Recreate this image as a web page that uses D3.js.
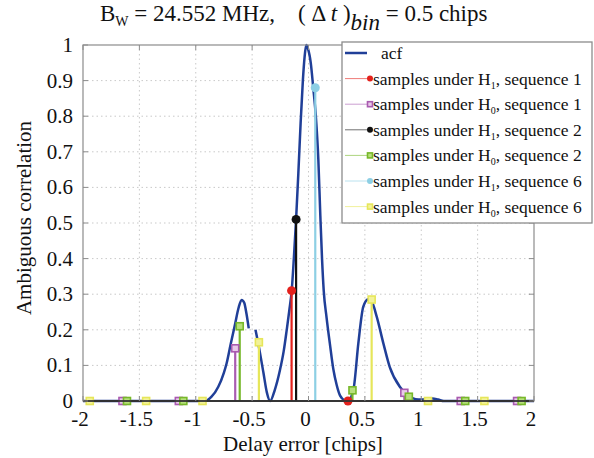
<!DOCTYPE html>
<html>
<head>
<meta charset="utf-8">
<script src="https://cdn.jsdelivr.net/npm/d3@7"></script>
<style>
  html, body { margin: 0; padding: 0; background: #fff; }
  svg { display: block; }
  text { font-family: "Liberation Serif", "Times New Roman", serif; fill: #111; }
</style>
</head>
<body>
<svg id="chart" width="594" height="458"></svg>
<script>
// Autocorrelation function (delay in chips, correlation); null marks a break in the curve
const acfX = [-2.0, -0.92, -0.86, -0.8, -0.75, -0.726, -0.69, -0.652, -0.62, -0.593, -0.57, -0.55, -0.53,
  -0.50,
  -0.47, -0.44, -0.40, -0.37, -0.34, -0.30, -0.253, -0.22, -0.193, -0.17, -0.149, -0.13, -0.11, -0.09, -0.07,
  -0.05, -0.035, -0.02, -0.005, 0.02, 0.042, 0.065, 0.087, 0.105, 0.12, 0.135, 0.16, 0.19, 0.22, 0.25, 0.28,
  0.32, 0.35, 0.40, 0.442, 0.486, 0.53, 0.56, 0.605, 0.664, 0.72, 0.81, 0.85, 0.9, 0.95, 1.0, 1.05, 1.1,
  1.15, 1.2, 2.0];
const acfY = [0, 0, 0.012, 0.04, 0.08, 0.106, 0.16, 0.215, 0.262, 0.284, 0.276, 0.245, 0.204,
  null,
  0.2, 0.152, 0.08, 0.025, 0.0, 0.03, 0.087, 0.14, 0.2, 0.255, 0.31, 0.4, 0.51, 0.64, 0.78,
  0.9, 0.965, 1.0, 0.99, 0.95, 0.88, 0.8, 0.68, 0.52, 0.4, 0.31, 0.235, 0.16, 0.09, 0.045, 0.015,
  0.002, 0.0, 0.035, 0.162, 0.265, 0.286, 0.28, 0.237, 0.162, 0.096, 0.04, 0.025, 0.012, 0.005, 0.004, 0.006, 0.007,
  0.004, 0.0, 0.0];

// Sample delays and correlation values for each sequence
const seq1H1X = [-0.15, 0.35];
const seq1H1Y = [0.31, 0.0];
const seq1H0X = [-1.65, -1.15, -0.65, 0.85, 1.35, 1.85];
const seq1H0Y = [0, 0, 0.148, 0.023, 0, 0];
const seq2H1X = [-0.11];
const seq2H1Y = [0.51];
const seq2H0X = [-1.61, -1.11, -0.61, 0.39, 0.89, 1.39, 1.89];
const seq2H0Y = [0, 0, 0.21, 0.03, 0.012, 0, 0];
const seq6H1X = [0.06];
const seq6H1Y = [0.88];
const seq6H0X = [-1.94, -1.44, -0.94, -0.44, 0.56, 1.06, 1.56];
const seq6H0Y = [0, 0, 0, 0.165, 0.285, 0, 0];

const xTicks = [-2, -1.5, -1, -0.5, 0, 0.5, 1, 1.5, 2];
const yTicks = [0, 0.1, 0.2, 0.3, 0.4, 0.5, 0.6, 0.7, 0.8, 0.9, 1];

const legendLabels = [
  ["acf"],
  ["samples under H", "1", ", sequence 1"],
  ["samples under H", "0", ", sequence 1"],
  ["samples under H", "1", ", sequence 2"],
  ["samples under H", "0", ", sequence 2"],
  ["samples under H", "1", ", sequence 6"],
  ["samples under H", "0", ", sequence 6"]
];

const series = [
  { xs: seq1H1X, ys: seq1H1Y, color: "#e3211c", fill: "#e3211c", marker: "circle", leg: 1 },
  { xs: seq1H0X, ys: seq1H0Y, color: "#a95bb0", fill: "#e9c9ea", marker: "square", leg: 2 },
  { xs: seq2H1X, ys: seq2H1Y, color: "#111111", fill: "#111111", marker: "circle", leg: 3 },
  { xs: seq2H0X, ys: seq2H0Y, color: "#77b82a", fill: "#b7df7c", marker: "square", leg: 4 },
  { xs: seq6H1X, ys: seq6H1Y, color: "#8dcfe4", fill: "#8dcfe4", marker: "circle", leg: 5 },
  { xs: seq6H0X, ys: seq6H0Y, color: "#e6e65a", fill: "#f2f29a", marker: "square", leg: 6 }
];

const svg = d3.select("#chart");
const plotL = 83, plotR = 534, plotT = 45, plotB = 401;
const x = d3.scaleLinear().domain([-2, 2]).range([plotL, plotR]);
const y = d3.scaleLinear().domain([0, 1]).range([plotB, plotT]);

// grid
const grid = svg.append("g").attr("stroke", "#c9c9c9").attr("stroke-width", 1).attr("stroke-dasharray", "1.5,3");
xTicks.slice(1, -1).forEach(t => grid.append("line").attr("x1", x(t)).attr("x2", x(t)).attr("y1", plotT).attr("y2", plotB));
yTicks.slice(1, -1).forEach(t => grid.append("line").attr("x1", plotL).attr("x2", plotR).attr("y1", y(t)).attr("y2", y(t)));

// acf curve
const acfData = acfX.map((v, i) => [v, acfY[i]]);
const line = d3.line().defined(d => d[1] !== null).x(d => x(d[0])).y(d => y(d[1])).curve(d3.curveMonotoneX);
svg.append("path").datum(acfData).attr("d", line).attr("fill", "none")
  .attr("stroke", "#203f98").attr("stroke-width", 2.5).attr("stroke-linejoin", "round");

// stems
series.forEach(s => {
  const pts = s.xs.map((v, i) => [v, s.ys[i]]);
  svg.append("g").selectAll("line").data(pts).join("line")
    .attr("x1", d => x(d[0])).attr("x2", d => x(d[0]))
    .attr("y1", y(0)).attr("y2", d => y(d[1]))
    .attr("stroke", s.color).attr("stroke-width", 2.2);
});

// stem baseline
svg.append("line").attr("x1", x(-2)).attr("x2", x(2)).attr("y1", y(0)).attr("y2", y(0))
  .attr("stroke", "#111").attr("stroke-width", 1.6);

function drawMarker(g, s, cx, cy, size) {
  if (s.marker === "circle") {
    g.append("circle").attr("cx", cx).attr("cy", cy).attr("r", size / 2).attr("fill", s.fill);
  } else {
    g.append("rect").attr("x", cx - size / 2).attr("y", cy - size / 2).attr("width", size).attr("height", size)
      .attr("fill", s.fill).attr("stroke", s.color).attr("stroke-width", 1.6);
  }
}

// markers
series.forEach(s => {
  const g = svg.append("g");
  s.xs.forEach((v, i) => drawMarker(g, s, x(v), y(s.ys[i]), s.marker === "circle" ? 9 : 7));
});

// axes box and ticks
const axisColor = "#8c8c8c";
svg.append("rect").attr("x", plotL).attr("y", plotT).attr("width", plotR - plotL).attr("height", plotB - plotT)
  .attr("fill", "none").attr("stroke", axisColor).attr("stroke-width", 1.2);
svg.append("line").attr("x1", plotL).attr("x2", plotR).attr("y1", plotB).attr("y2", plotB)
  .attr("stroke", "#222").attr("stroke-width", 1.4);
const tk = svg.append("g").attr("stroke", axisColor).attr("stroke-width", 1);
xTicks.forEach(t => {
  tk.append("line").attr("x1", x(t)).attr("x2", x(t)).attr("y1", plotB).attr("y2", plotB - 5);
  tk.append("line").attr("x1", x(t)).attr("x2", x(t)).attr("y1", plotT).attr("y2", plotT + 5);
});
yTicks.forEach(t => {
  tk.append("line").attr("x1", plotL).attr("x2", plotL + 5).attr("y1", y(t)).attr("y2", y(t));
  tk.append("line").attr("x1", plotR).attr("x2", plotR - 5).attr("y1", y(t)).attr("y2", y(t));
});

// tick labels
svg.append("g").selectAll("text").data(xTicks).join("text")
  .attr("x", d => x(d) - 3).attr("y", 426).attr("text-anchor", "middle").attr("font-size", 21)
  .text(d => String(d));
svg.append("g").selectAll("text").data(yTicks).join("text")
  .attr("x", 73).attr("y", d => y(d) + 7).attr("text-anchor", "end").attr("font-size", 21)
  .text(d => String(d));

// axis titles
svg.append("text").attr("x", 303).attr("y", 451).attr("text-anchor", "middle").attr("font-size", 21)
  .text("Delay error [chips]");
svg.append("text").attr("transform", "translate(31,218) rotate(-90)").attr("text-anchor", "middle")
  .attr("font-size", 21).text("Ambiguous correlation");

// title
const title = svg.append("text").attr("x", 100).attr("y", 21).attr("font-size", 23).attr("xml:space", "preserve");
title.append("tspan").text("B");
title.append("tspan").attr("font-size", 14).attr("dy", 5).text("W");
title.append("tspan").attr("dy", -5).text(" = 24.552 MHz,    ( \u0394 ");
title.append("tspan").attr("font-style", "italic").text("t");
title.append("tspan").text(" )");
title.append("tspan").attr("font-style", "italic").attr("dy", 9).text("bin");
title.append("tspan").attr("dy", -9).text(" = 0.5 chips");

// legend
const lg = svg.append("g");
lg.append("rect").attr("x", 342).attr("y", 42).attr("width", 250).attr("height", 181)
  .attr("fill", "#fff").attr("stroke", "#8c8c8c").attr("stroke-width", 1.3);
legendLabels.forEach((parts, i) => {
  const ly = 53 + i * 25.6;
  if (i === 0) {
    lg.append("line").attr("x1", 345).attr("x2", 367).attr("y1", ly).attr("y2", ly)
      .attr("stroke", "#203f98").attr("stroke-width", 2.5);
  } else {
    const s = series.find(d => d.leg === i);
    lg.append("line").attr("x1", 345).attr("x2", 368).attr("y1", ly).attr("y2", ly)
      .attr("stroke", s.color).attr("stroke-width", 1).attr("stroke-opacity", 0.6);
    drawMarker(lg, s, 370, ly, s.marker === "circle" ? 6 : 5);
  }
  const t = lg.append("text").attr("x", i === 0 ? 381 : 373).attr("y", ly + 6).attr("font-size", 17.5);
  t.append("tspan").text(parts[0]);
  if (parts.length > 1) {
    t.append("tspan").attr("font-size", 10).attr("dy", 4).text(parts[1]);
    t.append("tspan").attr("dy", -4).text(parts[2]);
  }
});
</script>
</body>
</html>
